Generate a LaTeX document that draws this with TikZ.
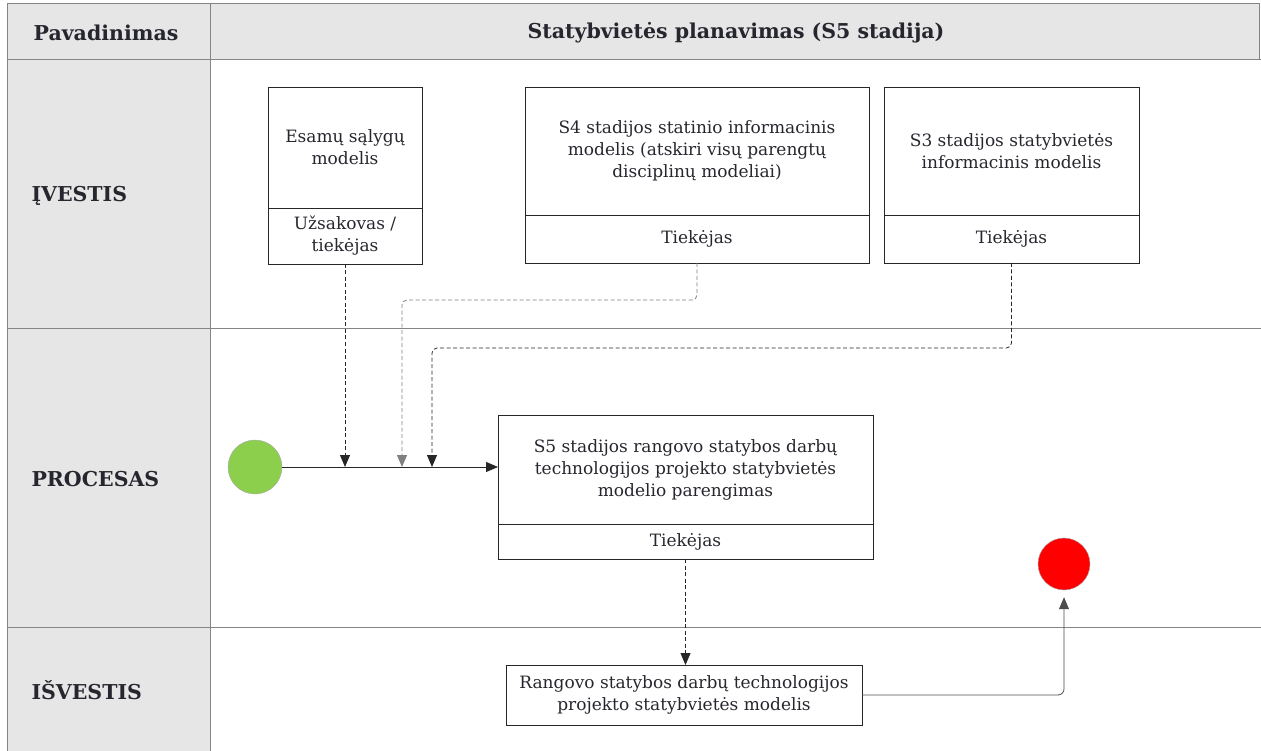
\documentclass[tikz,border=0pt]{standalone}
\usepackage{fontspec}
\setmainfont{DejaVu Serif}
\usetikzlibrary{calc}
\usetikzlibrary{arrows.meta}
\definecolor{lanegray}{HTML}{E6E6E6}
\definecolor{laneline}{HTML}{858585}
\definecolor{inktext}{HTML}{26262E}
\definecolor{startgreen}{HTML}{8CCF4D}
\definecolor{stopred}{HTML}{FF0000}
\newcommand{\boxfont}{\fontsize{17}{22}\selectfont}
\newcommand{\headfont}{\fontsize{20.5}{24}\selectfont\bfseries}
\tikzset{
  part/.style={draw=black!85, line width=0.9pt, inner sep=2pt, outer sep=0pt,
    align=center, text=inktext, font=\boxfont},
  lane/.style={draw=laneline, line width=1pt},
  lanetitle/.style={text=inktext, font=\headfont},
  flow/.style={line width=0.8pt, draw=black!85, -{Triangle[length=12pt,width=10pt]}},
  info/.style={flow, dash pattern=on 4pt off 2.5pt},
}

\begin{document}
\begin{tikzpicture}[x=1pt, y=-1pt]
  \useasboundingbox (0,0) rectangle (1261,751);
  % lanes
  \fill[lanegray] (7,4) rectangle (1259,60);
  \fill[lanegray] (7,60) rectangle (210,751);
  \draw[lane] (7,751) -- (7,4) -- (1259,4) -- (1259,60);
  \draw[lane] (7,60) -- (1261,60);
  \draw[lane] (7,329) -- (1261,329);
  \draw[lane] (7,627) -- (1261,627);
  \draw[lane] (210,4) -- (210,751);
  % titles
  \node[lanetitle] (hname) at (106,33) {Pavadinimas};
  \node[lanetitle] (htitle) at (736,33) {Statybvietės planavimas (S5 stadija)};
  \node[lanetitle, anchor=west] (lin) at (28,196) {ĮVESTIS};
  \node[lanetitle, anchor=west] (lproc) at (28,479) {PROCESAS};
  \node[lanetitle, anchor=west] (lout) at (28,690) {IŠVESTIS};

  % input 1
  \node[part, minimum width=154, minimum height=121] (esam) at (345,147.5) {Esamų sąlygų\\modelis};
  \node[part, minimum width=154, minimum height=56] (esamb) at (345,236) {Užsakovas /\\tiekėjas};
  % input 2
  \node[part, minimum width=344, minimum height=128] (sfour) at (697,151) {S4 stadijos statinio informacinis\\modelis (atskiri visų parengtų\\disciplinų modeliai)};
  \node[part, minimum width=344, minimum height=48] (sfourb) at (697,239) {Tiekėjas};
  % input 3
  \node[part, minimum width=255, minimum height=128] (sthree) at (1011.5,151) {S3 stadijos statybvietės\\informacinis modelis};
  \node[part, minimum width=255, minimum height=48] (sthreeb) at (1011.5,239) {Tiekėjas};

  % process
  \node[part, minimum width=375, minimum height=109] (proc) at (685.5,469.5) {S5 stadijos rangovo statybos darbų\\technologijos projekto statybvietės\\modelio parengimas};
  \node[part, minimum width=375, minimum height=35] (procb) at (685.5,541.5) {Tiekėjas};
  \node[circle, fill=startgreen, draw=black!35, minimum size=54, inner sep=0pt] (start) at (255,467) {};
  \node[circle, fill=stopred, draw=black!35, minimum size=52, inner sep=0pt] (stop) at (1064,564) {};

  % output
  \node[part, minimum width=356, minimum height=60] (result) at (684,695) {Rangovo statybos darbų technologijos\\projekto statybvietės modelis};

  % connectors
  \coordinate (inB) at (402,467);
  \coordinate (inC) at (432,467);
  \draw[flow] (start.east) -- (start.east -| proc.west);
  \draw[info] (esamb.south) -- (esamb.south |- start.east);
  \draw[info, draw=black!50, rounded corners=5] (sfourb.south) -- ++(0,37) -| (inB);
  \draw[info, rounded corners=5] (sthreeb.south) -- ++(0,85) -| (inC);
  \draw[info] (procb.south) -- (procb.south |- result.north);
  \draw[flow, draw=black!70, rounded corners=6, shorten >=7pt] (result.east) -| (stop.south);
\end{tikzpicture}
\end{document}
